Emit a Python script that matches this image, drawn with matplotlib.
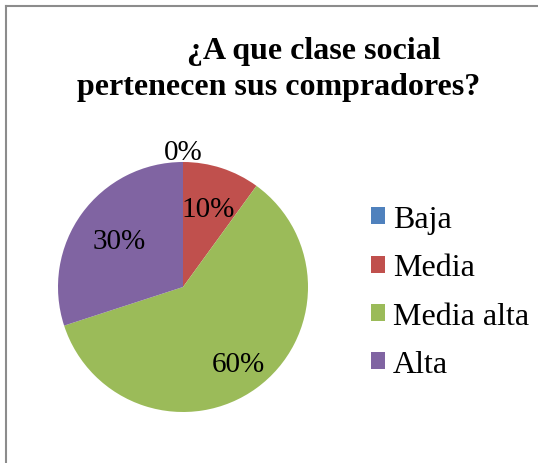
import numpy as np
import matplotlib.pyplot as plt
from matplotlib.lines import Line2D

# data
categories = ["Baja", "Media", "Media alta", "Alta"]
values = [0, 10, 60, 30]
colors = ["#4F81BD", "#C0504D", "#9BBB59", "#8064A2"]
label_dist = [1.08, 0.66, 0.76, 0.63]  # radial position of each % label

plt.rcParams['font.family'] = ['Liberation Serif', 'DejaVu Serif']

W, H = 538, 464
fig = plt.figure(figsize=(W / 100, H / 100), dpi=100)

# chart frame (only top and left edges visible in the crop)
fig.add_artist(Line2D([6 / W, 6 / W], [0, 1 - 7 / H], color="#8c8c8c", lw=1.5))
fig.add_artist(Line2D([6 / W, 1], [1 - 7 / H, 1 - 7 / H], color="#8c8c8c", lw=1.5))

# title
fig.text(187 / W, 1 - 51 / H, "¿A que clase social", fontsize=23,
         fontweight="bold", ha="left", va="center")
fig.text(77 / W, 1 - 88 / H, "pertenecen sus compradores?", fontsize=23,
         fontweight="bold", ha="left", va="center")

# pie
ax = fig.add_axes([58 / W, 1 - 413 / H, 250 / W, 250 / H])
wedges, _ = ax.pie(values, colors=colors, startangle=90, counterclock=False,
                   radius=1, wedgeprops=dict(linewidth=0))
ax.set_xlim(-1, 1)
ax.set_ylim(-1, 1)
ax.set_aspect("equal")

total = sum(values)
for w, v, d in zip(wedges, values, label_dist):
    ang = np.deg2rad((w.theta1 + w.theta2) / 2)
    ax.text(d * np.cos(ang), d * np.sin(ang), f"{v / total * 100:.0f}%",
            fontsize=21, ha="center", va="center")

fig.legend(wedges, categories, loc="center left",
           bbox_to_anchor=(342 / W, 1 - 293 / H), frameon=False,
           fontsize=23, handlelength=0.44, handleheight=0.44,
           handletextpad=0.25, labelspacing=0.6)

fig.savefig("out.png", dpi=100)
